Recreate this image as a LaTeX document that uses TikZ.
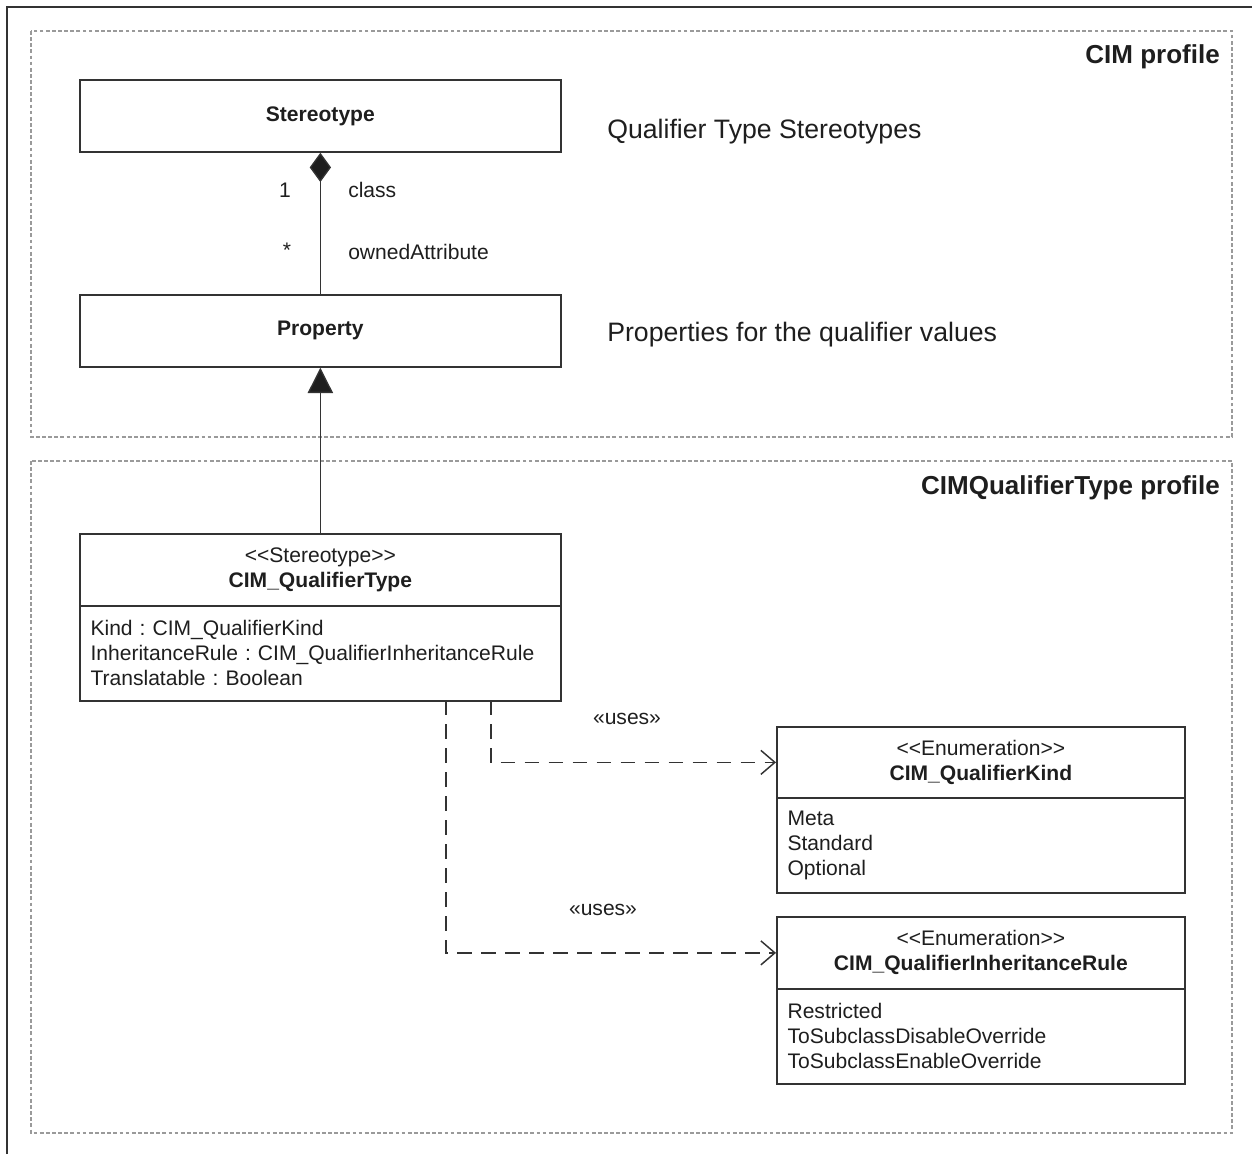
\documentclass[tikz,border=0pt]{standalone}
\usepackage{fontspec}
\setmainfont{Liberation Sans}
\usepackage{tikz}
\usetikzlibrary{arrows.meta}
\frenchspacing

\definecolor{inkcol}{HTML}{1E1E1E}
\definecolor{linecol}{HTML}{333333}
\definecolor{profcol}{HTML}{9A9A9A}

\tikzset{
  umlbox/.style={draw=linecol, line width=1.3pt, inner sep=0pt, text=inkcol, align=center,
                 font=\fontsize{15.8}{18.75}\selectfont},
  attrbox/.style={draw=linecol, line width=1.3pt, inner ysep=0pt, inner xsep=8pt, text=inkcol, align=left,
                 font=\fontsize{15.8}{18.75}\selectfont},
  profilebox/.style={draw=profcol, line width=0.8pt, dash pattern=on 2.8pt off 1.8pt},
  plaintext/.style={inner sep=0pt, text=inkcol, font=\fontsize{15.8}{18.75}\selectfont},
  bigtext/.style={inner sep=0pt, text=inkcol, font=\fontsize{20}{24}\selectfont},
  titletext/.style={inner sep=0pt, text=inkcol, font=\fontsize{19.5}{24}\selectfont\bfseries},
  assoc/.style={draw=linecol, line width=1pt},
  uses/.style={draw=linecol, line width=1.2pt, dash pattern=on 11pt off 7pt,
               -{Straight Barb[length=10.5pt, width=18pt, line width=1.1pt]}}
}

\begin{document}
\begin{tikzpicture}[x=0.75pt,y=0.75pt,yscale=-1,xscale=1]

\useasboundingbox (0,0) rectangle (1252,1154);

% outer frame
\draw[linecol, line width=1.4pt] (7,1154) -- (7,7) -- (1252,7);

% profiles
\draw[profilebox] (31,31) rectangle (1232,437);
\draw[profilebox] (31,461) rectangle (1232,1133);

\node[titletext, anchor=east] (cimtitle) at (1220,57) {CIM profile};
\node[titletext, anchor=east] (qttitle) at (1220,488) {CIMQualifierType profile};

% CIM profile classes
\node[umlbox, anchor=north west, minimum width=481*0.75pt, minimum height=72*0.75pt] (stereotype) at (79,79) {\bfseries Stereotype};
\node[umlbox, anchor=north west, minimum width=481*0.75pt, minimum height=72*0.75pt] (property) at (79,294) {\bfseries Property};

\node[bigtext, anchor=west] (stereonote) at (607,132) {Qualifier Type Stereotypes};
\node[bigtext, anchor=west] (propnote) at (607,335) {Properties for the qualifier values};

\draw[assoc, -{Diamond[length=22pt, width=16pt, fill=inkcol]}] (property.north) -- (stereotype.south);
\node[plaintext] (multone) at (285,190) {1};
\node[plaintext, anchor=west] (roleclass) at (348,190) {class};
\node[plaintext] (multmany) at (287,250) {*};
\node[plaintext, anchor=west] (roleowned) at (348,252) {ownedAttribute};

% CIMQualifierType profile classes
\node[umlbox, anchor=north west, minimum width=481*0.75pt, minimum height=72*0.75pt] (qtypehead) at (79,533)
  {{<}{<}Stereotype{>}{>}\\ \bfseries CIM\_QualifierType};
\node[attrbox, anchor=north west, text width=(481*0.75pt-16pt), minimum height=95*0.75pt] (qtypebody) at (79,605)
  {Kind : CIM\_QualifierKind\\ InheritanceRule : CIM\_QualifierInheritanceRule\\ Translatable : Boolean};

\node[umlbox, anchor=north west, minimum width=408*0.75pt, minimum height=71*0.75pt] (kindhead) at (776,726)
  {{<}{<}Enumeration{>}{>}\\ \bfseries CIM\_QualifierKind};
\node[attrbox, anchor=north west, text width=(408*0.75pt-16pt), minimum height=95*0.75pt] (kindbody) at (776,797)
  {Meta\\ Standard\\ Optional};

\node[umlbox, anchor=north west, minimum width=408*0.75pt, minimum height=72*0.75pt] (rulehead) at (776,916)
  {{<}{<}Enumeration{>}{>}\\ \bfseries CIM\_QualifierInheritanceRule};
\node[attrbox, anchor=north west, text width=(408*0.75pt-16pt), minimum height=95*0.75pt] (rulebody) at (776,988)
  {Restricted\\ ToSubclassDisableOverride\\ ToSubclassEnableOverride};

% generalization
\draw[assoc, -{Triangle[length=19pt, width=19pt, fill=inkcol]}] (qtypehead.north) -- (property.south);

% dependencies
\coordinate (usekind) at (491,700);
\coordinate (userule) at (446,700);
\draw[uses] (usekind) |- (kindhead.west);
\draw[uses] (userule) |- (rulehead.west);
\node[plaintext] (useslabelA) at (627,719) {«uses»};
\node[plaintext] (useslabelB) at (603,910) {«uses»};

\end{tikzpicture}
\end{document}
